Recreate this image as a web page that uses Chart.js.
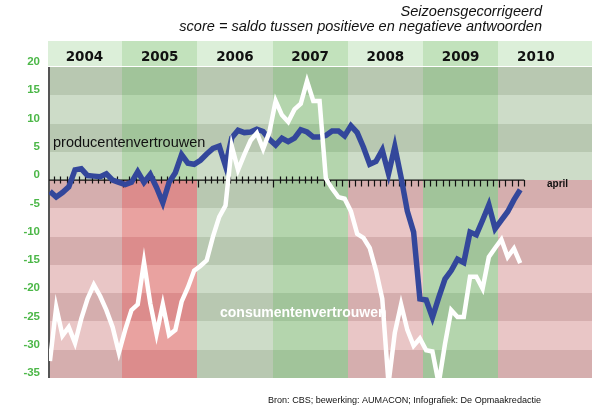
<!DOCTYPE html>
<html>
<head>
<meta charset="utf-8">
<script src="https://cdn.jsdelivr.net/npm/chart.js@4.4.1/dist/chart.umd.min.js"></script>
<style>
html,body{margin:0;padding:0;background:#fff;}
#wrap{width:600px;height:413px;}
</style>
</head>
<body>
<div id="wrap"><canvas id="chartVertrouwen" width="600" height="413"></canvas></div>
<script>
// ===============================
// DATA
// ===============================
const jaren = ['2004','2005','2006','2007','2008','2009','2010'];
const maandNamen = ['jan','feb','mrt','apr','mei','jun','jul','aug','sep','okt','nov','dec'];
const maanden = [];
jaren.forEach(j => maandNamen.forEach(m => maanden.push(m + ' ' + j)));
maanden.length = 76; // t/m april 2010

const yTicks = [20, 15, 10, 5, 0, -5, -10, -15, -20, -25, -30, -35];

const producenten = [
  -2.0, -3.0, -2.2, -1.2, 1.8, 2.0, 0.8, 0.7, 0.6, 1.1,
  0.0, -0.4, -0.8, -0.4, 1.5, -0.4, 1.0, -1.3, -4.0, -0.4,
  1.3, 4.5, 3.0, 2.8, 3.5, 4.6, 5.6, 6.0, 2.5, 7.5,
  8.8, 8.4, 8.5, 9.0, 8.6, 7.2, 6.2, 7.4, 6.8, 7.4,
  8.9, 8.5, 7.6, 7.6, 7.9, 8.7, 8.7, 7.8, 9.6, 8.4,
  5.8, 2.8, 3.3, 5.3, 1.1, 5.9, 0.5, -5.5, -9.2, -21.0,
  -21.2, -24.3, -20.8, -17.5, -16.0, -14.0, -14.6, -9.2, -9.7, -7.1,
  -4.4, -8.6, -7.1, -5.6, -3.5, -1.7
];

const consumenten = [
  -32.0, -22.5, -27.5, -26.0, -28.8, -24.5, -21.0, -18.5, -20.5, -23.0,
  -26.0, -30.5, -26.5, -23.0, -22.0, -14.5, -21.8, -27.2, -22.0, -27.4,
  -26.5, -21.5, -19.0, -16.0, -15.2, -14.2, -10.0, -6.5, -4.5, 6.0,
  1.8, 4.5, 7.0, 8.3, 5.5, 8.5, 14.0, 11.5, 10.3, 12.5,
  13.5, 17.5, 14.0, 14.0, 0.3, -1.5, -3.0, -3.3, -5.5, -9.5,
  -10.2, -12.0, -16.0, -21.0, -36.0, -27.0, -22.0, -26.5, -29.3, -28.0,
  -30.1, -30.3, -36.0, -29.0, -23.0, -24.2, -24.2, -17.1, -17.1, -19.2,
  -13.6, -12.0, -10.5, -13.6, -12.1, -14.7
];

// ===============================
// STIJL
// ===============================
const tintBoven = ['grijs','groen','grijs','groen','grijs','groen','grijs'];
const tintOnder = ['roze','rood','grijs','groen','roze','groen','roze'];
const kleuren = {
  grijs: ['#b8c8b1', '#cddcc8'],
  groen: ['#a1c49a', '#b4d5ad'],
  roze:  ['#d5aeae', '#e9c6c6'],
  rood:  ['#dc8c8c', '#e9a2a0']
};
const kopKleur = { grijs: '#dcefd9', groen: '#c2e2bc' };
const FONT = '"Liberation Sans", Arial, sans-serif';

function pasFont(ctx, tekst, stijl, breedte){
  ctx.font = stijl + ' 10px ' + FONT;
  const w = ctx.measureText(tekst).width;
  return stijl + ' ' + (10 * breedte / w).toFixed(2) + 'px ' + FONT;
}

const achtergrond = {
  id: 'achtergrond',
  beforeDatasetsDraw(c){
    const {ctx, chartArea: a, scales: {x, y}} = c;
    ctx.save();
    jaren.forEach((jaar, k) => {
      let x0 = Math.round(x.getPixelForValue(12*k - 0.5));
      let x1 = Math.round(x.getPixelForValue(12*k + 11.5));
      if(k === 0) x0 = Math.round(a.left) - 1;
      if(k === jaren.length - 1) x1 = Math.round(a.right);
      for(let j = 0; j < yTicks.length - 1; j++){
        const top = Math.round(y.getPixelForValue(yTicks[j]));
        const bot = Math.round(y.getPixelForValue(yTicks[j+1]));
        const tint = yTicks[j] > 0 ? tintBoven[k] : tintOnder[k];
        ctx.fillStyle = kleuren[tint][j % 2];
        ctx.fillRect(x0, top, x1 - x0, bot - top);
      }
      // jaarbalk boven
      ctx.fillStyle = kopKleur[tintBoven[k]];
      ctx.fillRect(x0, 41, x1 - x0, 25);
      ctx.fillStyle = '#111';
      ctx.font = 'bold 13.5px "DejaVu Sans"';
      ctx.textAlign = 'center';
      ctx.textBaseline = 'alphabetic';
      ctx.fillText(jaar, x.getPixelForValue(12*k + 5.5), 60.5);
    });

    // y-as
    ctx.strokeStyle = '#555';
    ctx.lineWidth = 2;
    ctx.beginPath();
    ctx.moveTo(a.left, a.top);
    ctx.lineTo(a.left, a.bottom);
    ctx.stroke();

    // nullijn met maandstreepjes
    const y0 = y.getPixelForValue(0);
    const xEind = x.getPixelForValue(maanden.length - 0.35);
    ctx.strokeStyle = '#111';
    ctx.lineWidth = 1.4;
    ctx.beginPath();
    ctx.moveTo(a.left, y0);
    ctx.lineTo(xEind, y0);
    ctx.stroke();
    ctx.lineWidth = 1.2;
    ctx.beginPath();
    for(let i = 0; i < maanden.length; i++){
      const px = Math.round(x.getPixelForValue(i + 0.65)) + 0.5;
      const jaargrens = (i + 1) % 12 === 0;
      if(jaargrens || i >= 43){
        ctx.moveTo(px, y0);
        ctx.lineTo(px, y0 + (jaargrens ? 7.5 : 6.5));
      } else {
        ctx.moveTo(px, y0 - 3.5);
        ctx.lineTo(px, y0 + 3.5);
      }
    }
    ctx.stroke();
    ctx.restore();
  },
  afterDatasetsDraw(c){
    const {ctx} = c;
    ctx.save();
    ctx.textAlign = 'left';
    ctx.textBaseline = 'alphabetic';
    ctx.fillStyle = '#111';
    ctx.font = '14.5px ' + FONT;
    ctx.fillText('producentenvertrouwen', 53, 146.5);
    ctx.fillStyle = '#fff';
    ctx.font = 'bold 14px ' + FONT;
    ctx.fillText('consumentenvertrouwen', 220, 316.5);
    ctx.fillStyle = '#111';
    ctx.font = 'bold 10px ' + FONT;
    ctx.fillText('april', 547, 187);

    // titel
    const regel2 = 'score = saldo tussen positieve en negatieve antwoorden';
    ctx.font = pasFont(ctx, regel2, 'italic', 363);
    ctx.textAlign = 'right';
    ctx.fillText('Seizoensgecorrigeerd', 542, 15.5);
    ctx.fillText(regel2, 542, 30.5);

    // bron
    const bron = 'Bron: CBS; bewerking: AUMACON; Infografiek: De Opmaakredactie';
    ctx.font = pasFont(ctx, bron, 'normal', 273);
    ctx.textAlign = 'left';
    ctx.fillText(bron, 268, 403);
    ctx.restore();
  }
};

new Chart(document.getElementById('chartVertrouwen'), {
  type: 'line',
  data: {
    labels: maanden,
    datasets: [
      {
        label: 'consumentenvertrouwen',
        data: consumenten.map((v, i) => ({x: i, y: v})),
        borderColor: '#ffffff',
        borderWidth: 4.5,
        pointRadius: 0,
        tension: 0,
        borderJoinStyle: 'miter',
        clip: 0
      },
      {
        label: 'producentenvertrouwen',
        data: producenten.map((v, i) => ({x: i, y: v})),
        borderColor: '#33479b',
        borderWidth: 5.5,
        pointRadius: 0,
        tension: 0,
        borderJoinStyle: 'miter',
        clip: 0
      }
    ]
  },
  options: {
    responsive: false,
    animation: false,
    devicePixelRatio: 1,
    layout: {padding: {left: 0, top: 67, right: 8, bottom: 35}},
    plugins: {legend: {display: false}, tooltip: {enabled: false}},
    scales: {
      x: {type: 'linear', min: -0.15, max: 86.45, display: false},
      y: {
        min: -35,
        max: 20,
        afterBuildTicks: axis => { axis.ticks = yTicks.map(v => ({value: v})); },
        afterFit: axis => { axis.width = 49; },
        grid: {display: false, drawTicks: false},
        border: {display: false},
        ticks: {
          padding: 9,
          labelOffset: -5,
          color: '#4cb748',
          font: {family: FONT, size: 11.5, weight: 'bold'},
          callback: v => String(v)
        }
      }
    }
  },
  plugins: [achtergrond]
});
</script>
</body>
</html>
